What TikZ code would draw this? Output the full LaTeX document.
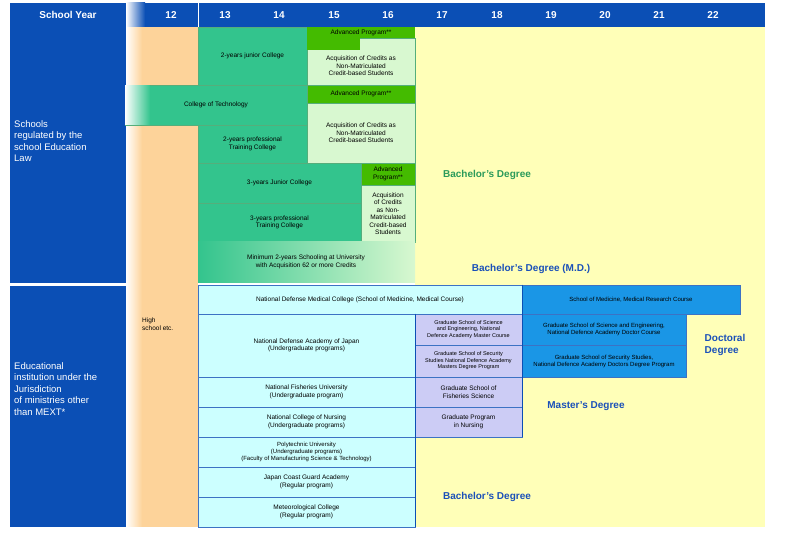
\documentclass[tikz,border=0pt]{standalone}
\usepackage{fontspec}
\setmainfont{Liberation Sans}
\definecolor{hdrblue}{HTML}{0B4FB5}
\definecolor{midgreen}{HTML}{33C48D}
\definecolor{advgreen}{HTML}{44BB00}
\definecolor{palegreen}{HTML}{D8F8D0}
\definecolor{palecyan}{HTML}{CCFFFF}
\definecolor{lavender}{HTML}{CCCCF5}
\definecolor{medblue}{HTML}{1A96E6}
\definecolor{paleyellow}{HTML}{FFFFB8}
\definecolor{peach}{HTML}{FDD39A}
\definecolor{bachgreen}{HTML}{2A9A5A}
\definecolor{degblue}{HTML}{1A50B8}
\tikzset{
  cell/.style={draw=#1,line width=0.6pt,inner sep=1pt,align=center,font=\fontsize{6.5}{7.5}\selectfont},
  cell/.default={black!60},
  green cell/.style={cell=bachgreen!80,fill=midgreen},
  adv cell/.style={cell=bachgreen!80,fill=advgreen},
  light cell/.style={cell=bachgreen!80,fill=palegreen},
  cyan cell/.style={cell=hdrblue!80,fill=palecyan},
  grad cell/.style={cell=hdrblue!80,fill=lavender,font=\fontsize{5.5}{6.5}\selectfont},
  doc cell/.style={cell=hdrblue!80,fill=medblue,font=\fontsize{6}{7}\selectfont},
  year/.style={text=white,font=\bfseries\fontsize{10}{12}\selectfont},
  degree/.style={font=\bfseries\fontsize{10}{12}\selectfont,text=degblue},
  side/.style={text=white,align=left,anchor=north west,font=\fontsize{9.5}{11.5}\selectfont,inner sep=0pt}
}
% box from (x1,y1) to (x2,y2), pixel units
\newcommand{\cell}[7]{%
  \node[#2,minimum width={(#5-#3)*1pt},minimum height={(#6-#4)*1pt}] (#1)
    at ({(#3+#5)/2},{(#4+#6)/2}) {#7};}
\begin{document}
\begin{tikzpicture}[x=1pt,y=-1pt]
  \useasboundingbox (0,0) rectangle (785,534);
  \fill[white] (0,0) rectangle (785,534);
  % backgrounds
  \fill[paleyellow] (415,27) rectangle (765,527);
  \fill[peach] (126,27) rectangle (198,527);
  \shade[left color=white,right color=peach] (126,27) rectangle (142,527);
  \fill[hdrblue] (10,3) rectangle (765,27);
  \shade[left color=white,right color=hdrblue] (126,3) rectangle (145,27);
  \draw[white,line width=1pt] (198,3) -- (198,27);
  \fill[hdrblue] (10,27) rectangle (126,283);
  \fill[hdrblue] (10,286) rectangle (126,527);

  % header
  \node[year] (yr) at (68,15) {School Year};
  \foreach \n/\x in {12/171,13/225,14/279,15/334,16/388,17/442,18/497,19/551,20/605,21/659,22/713}
    \node[year] (y\n) at (\x,15) {\n};

  % side labels
  \node[side] (law) at (14,120) {Schools\\regulated by the\\school Education\\Law};
  \node[side] (mext) at (14,362) {Educational\\institution under the\\Jurisdiction\\of ministries other\\than MEXT*};

  % schools regulated by the school education law
  \cell{jc2}{green cell}{198}{27}{307}{85}{2-years junior College}
  \cell{acq1}{light cell}{307}{38}{415}{85}{\\[6pt]Acquisition of Credits as\\Non-Matriculated\\Credit-based Students}
  \fill[advgreen] (307,27) rectangle (415,38);
  \fill[advgreen] (307,38) rectangle (360,50);
  \node[font=\fontsize{6.5}{7.5}\selectfont] (adv1) at (361,33) {Advanced Program**};
  \cell{tech}{green cell}{125}{85}{307}{125}{College of Technology}
  \shade[left color=white,right color=midgreen] (125,85.3) rectangle (150,124.7);
  \cell{adv2}{adv cell}{307}{85}{415}{103}{Advanced Program**}
  \cell{acq2}{light cell}{307}{103}{415}{163}{Acquisition of Credits as\\Non-Matriculated\\Credit-based Students}
  \cell{pt2}{green cell}{198}{125}{307}{163}{2-years professional\\Training College}
  \cell{jc3}{green cell}{198}{163}{361}{203}{3-years Junior College}
  \cell{adv3}{adv cell}{361}{163}{415}{185}{Advanced\\Program**}
  \cell{acq3}{light cell}{361}{185}{415}{242}{Acquisition\\of Credits\\as Non-\\Matriculated\\Credit-based\\Students}
  \cell{pt3}{green cell}{198}{203}{361}{242}{3-years professional\\Training College}
  \shade[left color=midgreen,right color=palegreen] (198,242) rectangle (415,283);
  \node[font=\fontsize{6.5}{7.5}\selectfont,align=center] (min2) at (306,262) {Minimum 2-years Schooling at University\\with Acquisition 62 or more Credits};
  \node[degree,text=bachgreen] (bach1) at (487,175) {Bachelor’s Degree};
  \node[degree] (bachmd) at (531,269) {Bachelor’s Degree (M.D.)};

  % other ministries
  \node[font=\fontsize{6.5}{7.5}\selectfont,align=left,anchor=north west,inner sep=0pt] (high) at (142,318) {High\\school etc.};
  \cell{ndmc}{cyan cell}{198}{285}{522}{314}{National Defense Medical College (School of Medicine, Medical Course)}
  \cell{med}{doc cell}{522}{285}{740}{314}{School of Medicine, Medical Research Course}
  \cell{nda}{cyan cell}{198}{314}{415}{377}{National Defense Academy of Japan\\(Undergraduate programs)}
  \cell{gse}{grad cell}{415}{314}{522}{345}{Graduate School of Science\\and Engineering, National\\Defence Academy Master Course}
  \cell{gss}{grad cell}{415}{345}{522}{377}{Graduate School of Security\\Studies National Defence Academy\\Masters Degree Program}
  \cell{dse}{doc cell}{522}{314}{686}{345}{Graduate School of Science and Engineering,\\National Defence Academy Doctor Course}
  \cell{dss}{doc cell}{522}{345}{686}{377}{Graduate School of Security Studies,\\National Defence Academy Doctors Degree Program}
  \cell{nfu}{cyan cell}{198}{377}{415}{407}{National Fisheries University\\(Undergraduate program)}
  \cell{gfs}{grad cell,font=\fontsize{6.5}{7.5}\selectfont}{415}{377}{522}{407}{Graduate School of\\Fisheries Science}
  \cell{ncn}{cyan cell}{198}{407}{415}{437}{National College of Nursing\\(Undergraduate programs)}
  \cell{gpn}{grad cell,font=\fontsize{6.5}{7.5}\selectfont}{415}{407}{522}{437}{Graduate Program\\in Nursing}
  \cell{poly}{cyan cell,font=\fontsize{6}{7}\selectfont}{198}{437}{415}{467}{Polytechnic University\\(Undergraduate programs)\\(Faculty of Manufacturing Science \& Technology)}
  \cell{jcga}{cyan cell}{198}{467}{415}{497}{Japan Coast Guard Academy\\(Regular program)}
  \cell{met}{cyan cell}{198}{497}{415}{527}{Meteorological College\\(Regular program)}
  \draw[hdrblue,line width=1.5pt] (ndmc.north east) -- (gpn.south east);
  \draw[hdrblue,line width=1.2pt] (nda.north east) -- (met.south east);
  \node[degree,align=left] (doc) at (725,345) {Doctoral\\Degree};
  \node[degree] (mast) at (586,406) {Master’s Degree};
  \node[degree] (bach2) at (487,497) {Bachelor’s Degree};
\end{tikzpicture}
\end{document}
